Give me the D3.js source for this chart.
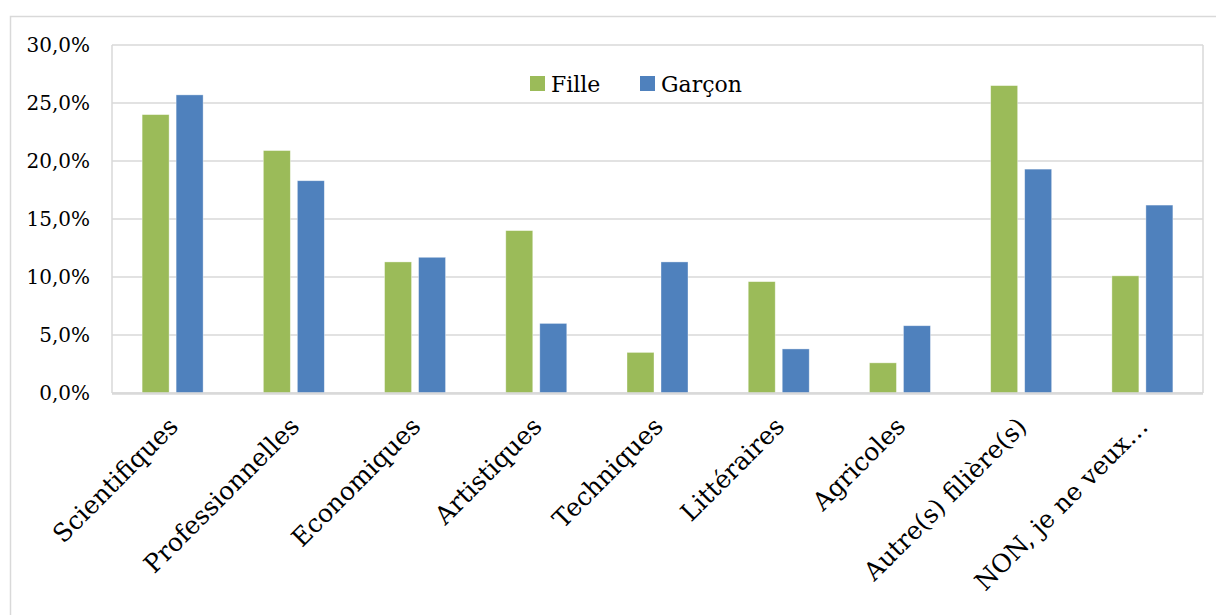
<!DOCTYPE html>
<html>
<head>
<meta charset="utf-8">
<script src="https://d3js.org/d3.v7.min.js"></script>
<style>
  body { margin: 0; background: #fff; }
  svg { display: block; font-family: "DejaVu Serif", serif; }
</style>
</head>
<body>
<svg width="1216" height="615"></svg>
<script>
const categories = ["Scientifiques", "Professionnelles", "Economiques", "Artistiques", "Techniques",
    "Littéraires", "Agricoles", "Autre(s) filière(s)", "NON, je ne veux…"];
const series = ["Fille", "Garçon"];
const fille = [24.0, 20.9, 11.3, 14.0, 3.5, 9.6, 2.6, 26.5, 10.1];
const garcon = [25.7, 18.3, 11.7, 6.0, 11.3, 3.8, 5.8, 19.3, 16.2];
const yTicks = [0, 5, 10, 15, 20, 25, 30];
const colors = ["#9bbb59", "#4f81bd"];

let svg = d3.select("svg"),
    plotLeft = 112,
    plotRight = 1203,
    plotTop = 45,
    plotBottom = 393;

// outer chart border
svg.append("rect")
    .attr("x", 10.5).attr("y", 16.5)
    .attr("width", 1212).attr("height", 620)
    .attr("fill", "none")
    .attr("stroke", "#d9d9d9")
    .attr("stroke-width", 1.5);

let x0 = d3.scaleBand().domain(categories).range([plotLeft, plotRight]);
let x1 = d3.scaleBand().domain(series).range([-30.5, 30.5]).paddingInner(0.206);
let y = d3.scaleLinear().domain([0, 30]).range([plotBottom, plotTop]);

// gridlines
svg.append("g")
    .selectAll("line")
    .data(yTicks)
    .enter()
    .append("line")
    .attr("x1", plotLeft).attr("x2", plotRight)
    .attr("y1", d => y(d)).attr("y2", d => y(d))
    .attr("stroke", "#d9d9d9")
    .attr("stroke-width", 1.5);

// plot area side borders
svg.append("line")
    .attr("x1", plotLeft).attr("x2", plotLeft).attr("y1", plotTop).attr("y2", plotBottom)
    .attr("stroke", "#d9d9d9").attr("stroke-width", 1.5);
svg.append("line")
    .attr("x1", plotRight).attr("x2", plotRight).attr("y1", plotTop).attr("y2", plotBottom)
    .attr("stroke", "#d9d9d9").attr("stroke-width", 1.5);

// y axis labels
let yAxis = svg.append("g")
    .attr("transform", `translate(${plotLeft - 22},0)`)
    .call(d3.axisLeft(y).tickValues(yTicks).tickSize(0).tickPadding(0)
        .tickFormat(d => d.toFixed(1).replace(".", ",") + "%"));
yAxis.select(".domain").remove();
yAxis.selectAll("text")
    .attr("fill", "#000")
    .style("font-family", "DejaVu Serif")
    .style("font-size", "20px");

// bars
let rows = categories.map((c, i) => ({ cat: c, values: [fille[i], garcon[i]] }));
let groups = svg.append("g")
    .selectAll("g")
    .data(rows)
    .enter()
    .append("g")
    .attr("transform", d => `translate(${x0(d.cat) + x0.bandwidth() / 2},0)`);

groups.selectAll("rect")
    .data(d => d.values.map((v, i) => ({ s: series[i], v: v, i: i })))
    .enter()
    .append("rect")
    .attr("x", d => x1(d.s))
    .attr("width", x1.bandwidth())
    .attr("y", d => y(d.v))
    .attr("height", d => y(0) - y(d.v))
    .attr("fill", d => colors[d.i])
    .attr("stroke", "#fff")
    .attr("stroke-opacity", 0.5)
    .attr("stroke-width", 0.75);

// x axis line
svg.append("line")
    .attr("x1", plotLeft).attr("x2", plotRight)
    .attr("y1", plotBottom + 0.5).attr("y2", plotBottom + 0.5)
    .attr("stroke", "#d9d9d9")
    .attr("stroke-width", 2.5);

// category labels
let xAxis = svg.append("g")
    .attr("transform", `translate(0,${plotBottom})`)
    .call(d3.axisBottom(x0).tickSize(0).tickPadding(0));
xAxis.select(".domain").remove();
xAxis.selectAll("text")
    .attr("y", 0)
    .attr("dy", 0)
    .attr("text-anchor", "end")
    .attr("fill", "#000")
    .attr("transform", "translate(7,35) rotate(-45)")
    .style("font-family", "DejaVu Serif")
    .style("font-size", "25px");

// legend
let legend = svg.append("g")
    .selectAll("g")
    .data(series)
    .enter()
    .append("g")
    .attr("transform", (d, i) => `translate(${530 + i * 110},76)`);
legend.append("rect")
    .attr("width", 15).attr("height", 15)
    .attr("fill", (d, i) => colors[i]);
legend.append("text")
    .attr("x", 21).attr("y", 16)
    .style("font-size", "22px")
    .text(d => d);
</script>
</body>
</html>
